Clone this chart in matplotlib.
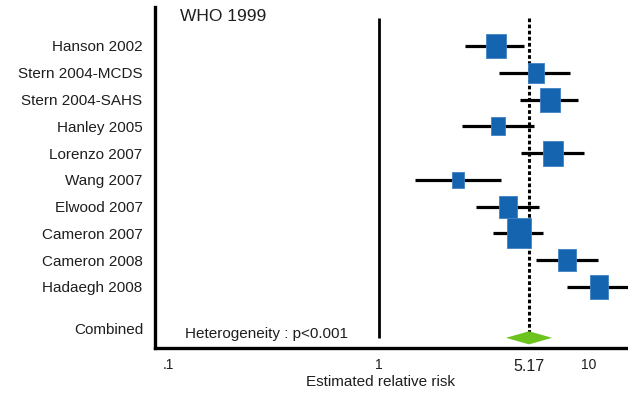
import matplotlib
matplotlib.use("Agg")
import matplotlib.pyplot as plt
from matplotlib.path import Path

plt.rcParams["font.family"] = ["Liberation Sans", "DejaVu Sans"]

# Study data
studies = ["Hanson 2002", "Stern 2004-MCDS", "Stern 2004-SAHS", "Hanley 2005",
           "Lorenzo 2007", "Wang 2007", "Elwood 2007", "Cameron 2007",
           "Cameron 2008", "Hadaegh 2008"]
rr = [3.60, 5.58, 6.51, 3.68, 6.73, 2.38, 4.11, 4.64, 7.84, 11.1]
ci_low = [2.57, 3.72, 4.69, 2.48, 4.74, 1.48, 2.89, 3.49, 5.58, 7.84]
ci_high = [4.90, 8.11, 8.85, 5.46, 9.45, 3.80, 5.77, 6.03, 11.0, 16.0]
weight = [24, 20.7, 24.3, 17.7, 25, 16, 21.7, 30, 21.7, 23.3]

combined_rr = 5.17
combined_low = 4.02
combined_high = 6.66

xticks = [0.1, 1, 5.17, 10]
xtick_labels = [".1", "1", "5.17", "10"]

BLUE = "#1464b0"
GREEN = "#6cc31e"
INK = "#1e1e1e"

fig = plt.figure(figsize=(6.28, 3.93), dpi=100)
ax = fig.add_axes([155 / 628, 1 - 348 / 393, 1 - 155 / 628, 341 / 393])

rows = list(range(1, len(studies) + 1))
comb_row = len(studies) + 1.9

# reference lines
ax.vlines(1, -0.05, comb_row, color="black", lw=2)
ax.vlines(combined_rr, -0.05, comb_row, color="black", lw=2.2,
          linestyles=(0, (1.2, 0.8)))

# confidence intervals
ax.hlines(rows, ci_low, ci_high, color="black", lw=2.3, zorder=2)

# boxes (slightly taller than wide, as in the original)
box = Path([(-0.4, -0.5), (0.4, -0.5), (0.4, 0.5), (-0.4, 0.5), (-0.4, -0.5)],
           [Path.MOVETO, Path.LINETO, Path.LINETO, Path.LINETO, Path.CLOSEPOLY])
for r, est, w in zip(rows, rr, weight):
    ax.plot(est, r, marker=box, ms=w * 0.72, mfc=BLUE, mec="#3f83c4",
            mew=0.6, ls="none", zorder=3)

# combined diamond
h = 0.245
ax.fill([combined_low, combined_rr, combined_high, combined_rr],
        [comb_row, comb_row - h, comb_row, comb_row + h],
        color=GREEN, lw=0, zorder=3)

ax.set_xscale("log")
ax.set_xlim(0.0859, 15.3)
ax.set_ylim(12.28, -0.456)

ax.set_yticks(rows)
ax.set_yticklabels(studies, fontsize=11, color=INK)
ax.set_xticks(xticks)
ax.set_xticklabels(xtick_labels, fontsize=10, color=INK)
ax.xaxis.set_minor_locator(matplotlib.ticker.NullLocator())
ax.tick_params(axis="y", length=0, pad=9)
ax.tick_params(axis="x", length=0, pad=7)
for lab in ax.get_xticklabels():
    if lab.get_text() == "5.17":
        lab.set_fontsize(11.5)
        lab.set_y(-0.004)

ax.set_xlabel("Estimated relative risk", fontsize=11, color=INK)
ax.xaxis.set_label_coords(0.476, -0.10)
ax.xaxis.label.set_va("center")

ax.text(-0.025, comb_row - 0.3, "Combined", transform=ax.get_yaxis_transform(),
        ha="right", va="center", fontsize=11, color=INK)
ax.text(0.063, comb_row - 0.15, "Heterogeneity : p<0.001",
        transform=ax.get_yaxis_transform(), ha="left", va="center",
        fontsize=11, color=INK)
ax.text(0.053, 0.972, "WHO 1999", transform=ax.transAxes, ha="left",
        va="center", fontsize=12.5, color=INK)

for side in ("top", "right"):
    ax.spines[side].set_visible(False)
for side in ("left", "bottom"):
    ax.spines[side].set_linewidth(2.4)
    ax.spines[side].set_color("black")

fig.savefig("out.png", dpi=100)
